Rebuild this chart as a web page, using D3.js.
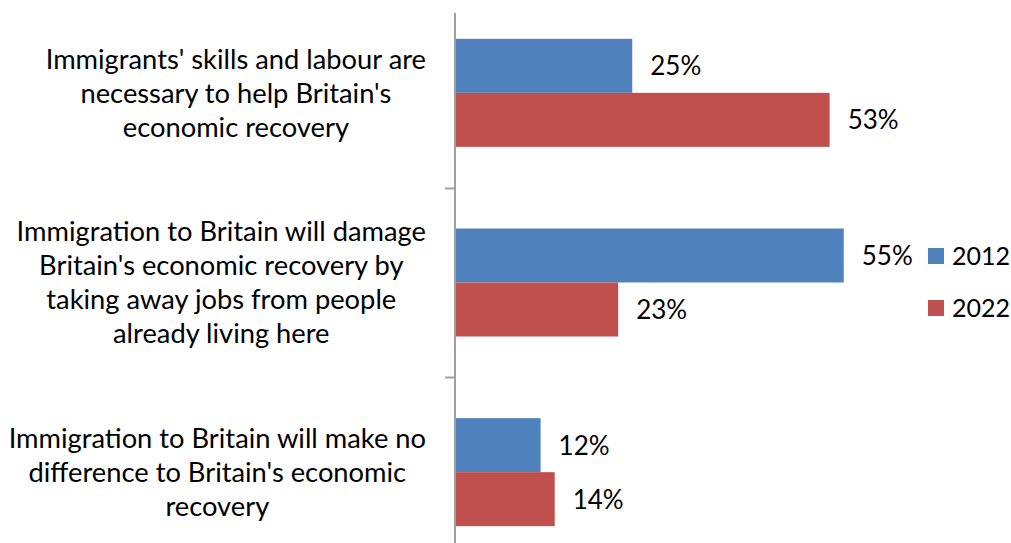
<!DOCTYPE html>
<html><head><meta charset="utf-8">
<script src="https://cdn.jsdelivr.net/npm/d3@7"></script>
<style>
html,body{margin:0;padding:0;background:#fff;}
svg{display:block;font-family:Lato,"Open Sans",sans-serif;}
</style></head>
<body>
<svg id="c" width="1011" height="543"></svg>
<script>
const categories = [
  ["Immigrants' skills and labour are", "necessary to help Britain's", "economic recovery"],
  ["Immigration to Britain will damage", "Britain's economic recovery by", "taking away jobs from people", "already living here"],
  ["Immigration to Britain will make no", "difference to Britain's economic", "recovery"]
];
const seriesNames = ["2012", "2022"];
const values2012 = [25, 55, 12];
const values2022 = [53, 23, 14];
const colors = ["#4F81BD", "#C0504D"];

const svg = d3.select("#c");
const fs = 26;
const catFs = 27.3;
const catIdx = categories.map((d,i)=>i);
const y = d3.scaleBand().domain(catIdx).range([-2, 567]).padding(0);
const yIn = d3.scaleBand().domain(seriesNames).range([0, y.step()]).paddingInner(0).paddingOuter(0.756);
const x = d3.scaleLinear().domain([0, 60]).range([456, 879]);
const seriesVals = [values2012, values2022];

// bars
seriesNames.forEach((s, si) => {
  const g = svg.append("g");
  g.selectAll("rect").data(seriesVals[si]).join("rect")
    .attr("x", x(0))
    .attr("y", (d,i) => y(i) + yIn(s))
    .attr("width", d => x(d) - x(0))
    .attr("height", yIn.bandwidth())
    .attr("fill", colors[si]);
  g.selectAll("text").data(seriesVals[si]).join("text")
    .attr("x", d => x(d) + 18)
    .attr("y", (d,i) => y(i) + yIn(s) + yIn.bandwidth()/2)
    .attr("dy", "0.36em")
    .attr("font-size", fs)
    .attr("fill", "#000")
    .text(d => d + "%");
});

// axis
svg.append("line").attr("x1", 455).attr("x2", 455).attr("y1", 13).attr("y2", 543)
  .attr("stroke", "#a0a0a0").attr("stroke-width", 2);
catIdx.slice(0, -1).forEach(i => {
  const yy = Math.round(y(i) + y.step()) + 0.5;
  svg.append("line").attr("x1", 445).attr("x2", 455).attr("y1", yy).attr("y2", yy)
    .attr("stroke", "#a0a0a0").attr("stroke-width", 2);
});

// category labels
const lh = 34;
categories.forEach((lines, i) => {
  const g = svg.append("g");
  const cy = y(i) + y.step()/2;
  const texts = lines.map((t, li) => g.append("text")
    .attr("y", cy + (li - (lines.length-1)/2) * lh)
    .attr("dy", "0.36em")
    .attr("font-size", catFs)
    .attr("fill", "#000")
    .attr("text-anchor", "middle")
    .text(t));
  const maxW = d3.max(texts, t => t.node().getComputedTextLength());
  texts.forEach(t => t.attr("x", 426 - maxW/2));
});

// legend
seriesNames.forEach((s, si) => {
  const ly = 256 + si * 52;
  svg.append("rect").attr("x", 928).attr("y", ly - 8).attr("width", 16).attr("height", 16).attr("fill", colors[si]);
  svg.append("text").attr("x", 952).attr("y", ly).attr("dy", "0.36em")
    .attr("font-size", 25).attr("fill", "#000").text(s);
});
</script>
</body></html>
